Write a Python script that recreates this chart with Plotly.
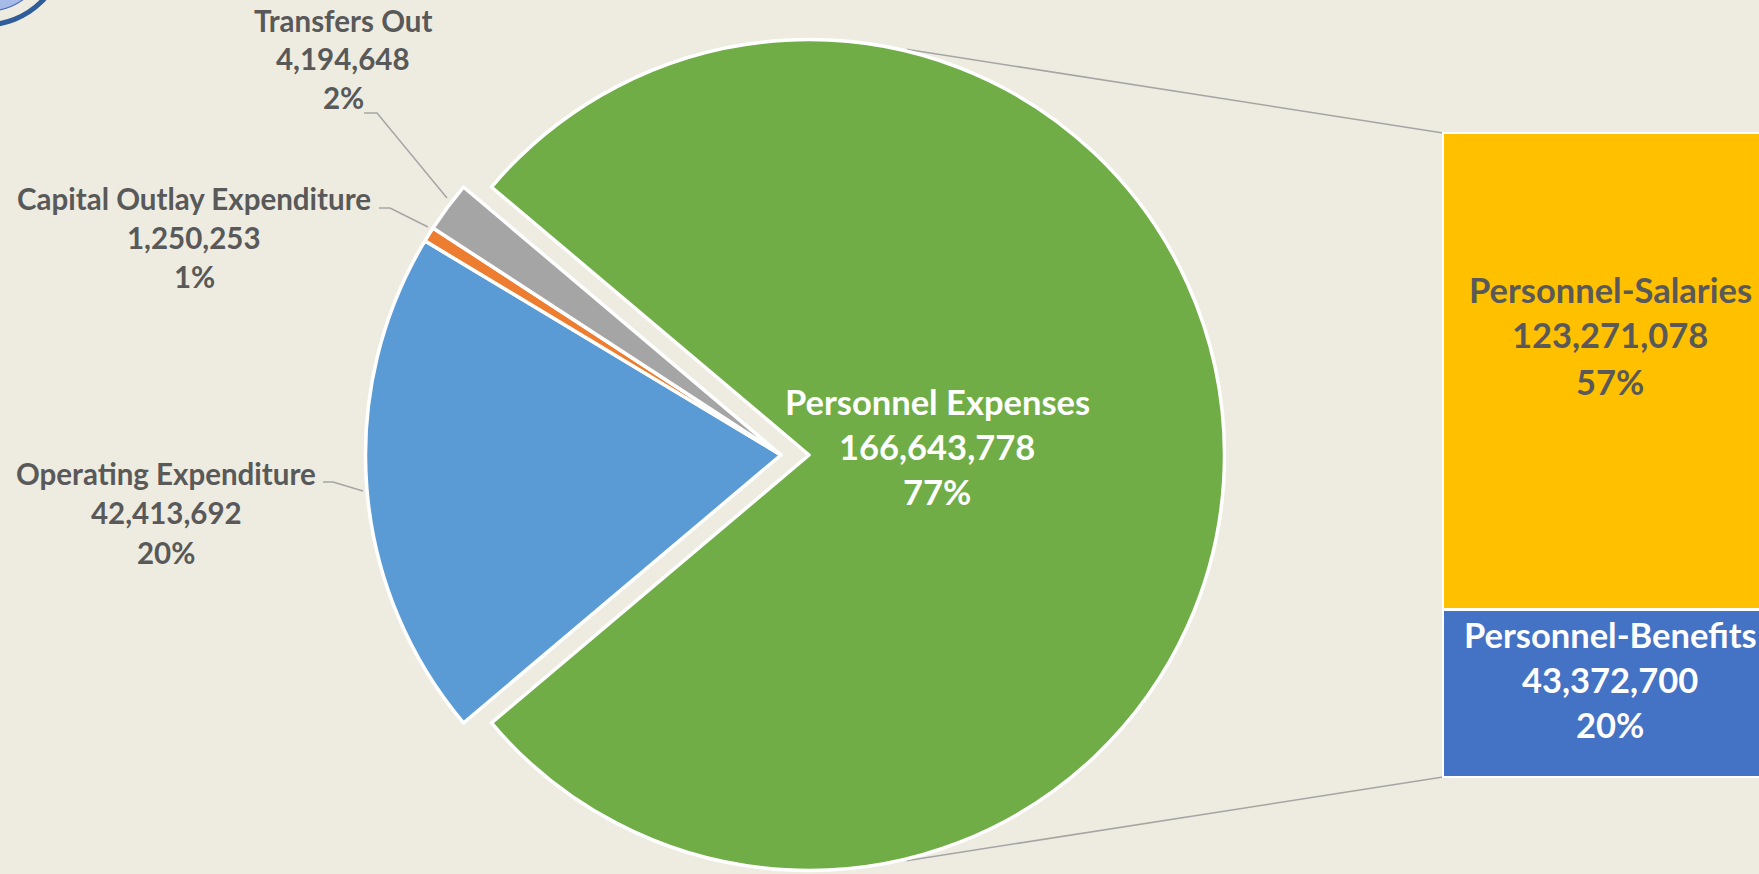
import math
import plotly.graph_objects as go

# ---------------- data ----------------
pie_labels = ["Personnel Expenses", "Operating Expenditure", "Capital Outlay Expenditure", "Transfers Out"]
pie_values = [166643778, 42413692, 1250253, 4194648]
pie_pct_labels = [77, 20, 1, 2]

bar_labels = ["Personnel-Benefits", "Personnel-Salaries"]
bar_values = [43372700, 123271078]
bar_pct_labels = [20, 57]

# ---------------- styles / layout ----------------
W, H = 1759, 874
BG = "#EEECE1"
TXT = "#595959"
pie_colors = ["#70AD47", "#5B9BD5", "#ED7D31", "#A5A5A5"]
bar_colors = ["#4472C4", "#FFC000"]
bar_text_colors = ["white", TXT]
FONT = "Lato"
LW = 3.5
R = 415.5                 # pie radius in px
REST_C = (781, 455)       # centre of the non-exploded slices (px)
EXPLODE_PX = 28           # explosion of the first slice (px)

def px(x):
    return x / W

def py(y):
    return 1 - y / H

def dom(cx, cy, r):
    return dict(x=[px(cx - r), px(cx + r)], y=[py(cy + r), py(cy - r)])

total = sum(pie_values)
rotation = 90 - 180 * pie_values[0] / total
TRANSP = "rgba(0,0,0,0)"

fig = go.Figure()

# non-exploded slices
fig.add_trace(go.Pie(
    labels=pie_labels, values=pie_values, sort=False, direction="clockwise",
    rotation=rotation, textinfo="none", hoverinfo="label+value+percent",
    marker=dict(colors=[TRANSP] + pie_colors[1:],
                line=dict(color=[TRANSP, "white", "white", "white"], width=[0, LW, LW, LW])),
    domain=dom(REST_C[0], REST_C[1], R), showlegend=False,
))
# exploded slice
GREEN_C = (REST_C[0] + EXPLODE_PX, REST_C[1])
fig.add_trace(go.Pie(
    labels=pie_labels, values=pie_values, sort=False, direction="clockwise",
    rotation=rotation, textinfo="none", hoverinfo="label+value+percent",
    marker=dict(colors=[pie_colors[0], TRANSP, TRANSP, TRANSP],
                line=dict(color=["white", TRANSP, TRANSP, TRANSP], width=[LW, 0, 0, 0])),
    domain=dom(GREEN_C[0], GREEN_C[1], R), showlegend=False,
))

# stacked bar
BAR_LEFT, BAR_CENTER, BAR_TOP, BAR_BOTTOM = 1443, 1611, 133, 777
XDOM0 = 0.8
ppu = 2 * (BAR_CENTER - BAR_LEFT)
x0 = -0.5 - (BAR_LEFT - XDOM0 * W) / ppu
x1 = x0 + (W - XDOM0 * W) / ppu
bar_total = sum(bar_values)
vpp = bar_total / (BAR_BOTTOM - BAR_TOP)
y0 = -(H - BAR_BOTTOM) * vpp
y1 = bar_total + BAR_TOP * vpp

for lab, v, c in zip(bar_labels, bar_values, bar_colors):
    fig.add_trace(go.Bar(x=[0], y=[v], name=lab, width=1,
                         marker=dict(color=c, line=dict(color="white", width=2.5)),
                         showlegend=False, xaxis="x", yaxis="y"))

annotations = []

def add_block(lines, cx, ys, size, color):
    for t, yy in zip(lines, ys):
        annotations.append(dict(text=t, x=px(cx), y=py(yy), xref="paper", yref="paper",
                                showarrow=False, xanchor="center", yanchor="middle",
                                font=dict(family=FONT, size=size, color=color, weight="bold")))

def lines_for(name, v, p):
    return [name, f"{v:,}", f"{p}%"]

# label positions (px): (centre x, [line centre y...], size, colour)
pie_label_pos = [
    (937, [402, 447, 492], 34.5, "white"),
    (166, [473, 512, 552], 29.5, TXT),
    (194, [198, 237, 276], 29.5, TXT),
    (343, [20, 59, 98], 29.5, TXT),
]
for (name, v, p), (cx, ys, sz, col) in zip(zip(pie_labels, pie_values, pie_pct_labels), pie_label_pos):
    add_block(lines_for(name, v, p), cx, ys, sz, col)

bar_label_pos = [
    (1610, [634, 679, 724], 34.5),
    (1610, [289, 334, 381], 34.5),
]
for (name, v, p, col), (cx, ys, sz) in zip(zip(bar_labels, bar_values, bar_pct_labels, bar_text_colors), bar_label_pos):
    add_block(lines_for(name, v, p), cx, ys, sz, col)

shapes = []
LINE_COL = "#A5A5A5"

def path_px(pts):
    return "M " + " L ".join(f"{px(x)},{py(y)}" for x, y in pts)

# leader lines
for pts in [
    [(364, 113), (377, 113), (447, 198)],
    [(379, 208), (390, 208), (428, 227)],
    [(323, 482), (333, 482), (363, 491)],
]:
    shapes.append(dict(type="path", path=path_px(pts), xref="paper", yref="paper",
                       line=dict(color=LINE_COL, width=1.5)))

# series lines from exploded slice to bar
ang = math.radians(76.5)
rr = R + LW / 2
top_start = (GREEN_C[0] + rr * math.cos(ang), GREEN_C[1] - rr * math.sin(ang))
bot_start = (GREEN_C[0] + rr * math.cos(ang), GREEN_C[1] + rr * math.sin(ang))
for s, e in [(top_start, (BAR_LEFT, BAR_TOP)), (bot_start, (BAR_LEFT, BAR_BOTTOM))]:
    shapes.append(dict(type="line", x0=px(s[0]), y0=py(s[1]), x1=px(e[0]), y1=py(e[1]),
                       xref="paper", yref="paper", layer="below",
                       line=dict(color=LINE_COL, width=1.5)))

# partial logo in the top-left corner
def circ(cx, cy, r, **kw):
    return dict(type="circle", xref="paper", yref="paper",
                x0=px(cx - r), x1=px(cx + r), y0=py(cy + r), y1=py(cy - r), **kw)

shapes.append(circ(-15, -55, 66.5, fillcolor="#A7BBE8", line=dict(color="#4F6FC0", width=1.2)))
shapes.append(circ(-15, -55, 80, line=dict(color="#2E5D99", width=5)))

fig.update_layout(
    width=W, height=H,
    margin=dict(l=0, r=0, t=0, b=0),
    paper_bgcolor=BG, plot_bgcolor=BG,
    barmode="stack",
    xaxis=dict(domain=[XDOM0, 1], range=[x0, x1], visible=False, fixedrange=True),
    yaxis=dict(domain=[0, 1], range=[y0, y1], visible=False, fixedrange=True),
    annotations=annotations,
    shapes=shapes,
    showlegend=False,
)

fig.write_html(
    "out.html",
    config={"displayModeBar": False},
    post_script="document.body.style.margin='0';document.body.style.padding='0';"
                "document.body.style.overflow='hidden';"
                "document.documentElement.style.overflow='hidden';"
                "document.body.style.background='" + BG + "';",
)
